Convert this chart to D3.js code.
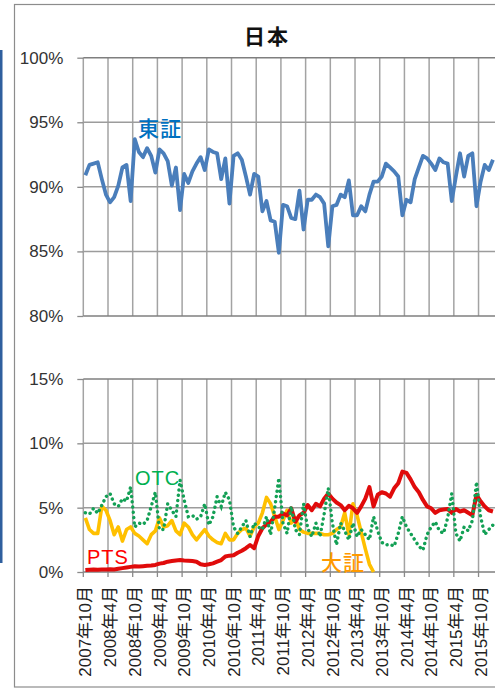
<!DOCTYPE html>
<html>
<head>
<meta charset="utf-8">
<script src="https://cdn.jsdelivr.net/npm/d3@7"></script>
<style>
  body { margin: 0; background: #fff; }
  svg { display: block; font-family: 'Liberation Sans', 'Noto Sans CJK JP', sans-serif; }
</style>
</head>
<body>
<div class="canvas"></div>
<script>
// month categories start at 2007年10月, one label every 6 months
const tickLabels = ['2007年10月', '2008年4月', '2008年10月', '2009年4月', '2009年10月', '2010年4月',
  '2010年10月', '2011年4月', '2011年10月', '2012年4月', '2012年10月', '2013年4月', '2013年10月',
  '2014年4月', '2014年10月', '2015年4月', '2015年10月']

// 東証 share (%)
const tse = [90.9, 91.7, 91.8, 91.9, 90.6, 89.4, 88.8, 89.2, 90.1, 91.5, 91.7, 88.9,
  93.7, 92.7, 92.3, 93.0, 92.4, 91.1, 92.9, 92.6, 92.0, 90.1, 91.5, 88.2,
  91.0, 90.3, 91.2, 91.8, 92.3, 91.3, 92.9, 92.7, 92.6, 90.6, 92.2, 88.7,
  92.4, 92.6, 92.1, 90.8, 89.4, 91.0, 90.8, 88.1, 88.9, 87.4, 87.3, 84.9,
  88.6, 88.5, 87.6, 87.5, 89.7, 86.7, 89.0, 89.0, 89.4, 89.2, 88.7, 85.4,
  88.5, 88.6, 89.4, 89.2, 90.5, 87.8, 87.8, 88.5, 88.1, 89.4, 90.4, 90.4,
  90.8, 91.8, 91.5, 91.2, 90.8, 87.8, 89.0, 88.8, 90.6, 91.5, 92.4, 92.2,
  91.8, 91.3, 92.2, 91.9, 91.8, 88.9, 90.8, 92.6, 90.8, 92.4, 92.6, 88.5,
  90.4, 91.7, 91.3, 92.1]

// PTS share (%)
const pts = [0.15, 0.18, 0.2, 0.18, 0.2, 0.2, 0.22, 0.2, 0.25, 0.3, 0.35, 0.4,
  0.45, 0.42, 0.45, 0.48, 0.5, 0.55, 0.65, 0.7, 0.8, 0.85, 0.9, 0.93,
  0.9, 0.88, 0.85, 0.8, 0.6, 0.55, 0.6, 0.67, 0.8, 0.93, 1.2, 1.27,
  1.3, 1.5, 1.65, 1.85, 2.1, 1.85, 2.8, 3.4, 3.7, 3.9, 4.3, 4.3,
  4.55, 4.4, 4.95, 3.9, 4.4, 4.6, 5.2, 4.8, 5.3, 5.1, 5.7, 6.1,
  5.7, 5.4, 5.2, 4.8, 5.15, 4.95, 4.6, 5.1, 5.7, 6.6, 5.1, 6.0,
  6.2, 6.1, 5.85, 6.5, 6.9, 7.8, 7.7, 7.2, 6.6, 6.2, 5.6, 5.1,
  4.95, 4.6, 4.8, 4.85, 4.9, 4.6, 4.9, 4.7, 4.8, 4.6, 4.4, 6.0,
  5.5, 5.1, 4.8, 4.7]

// 大証 share (%), ends with the merger
const ose = [4.2, 3.3, 3.0, 3.0, 5.1, 4.8, 4.0, 2.9, 3.5, 2.4, 3.3, 3.5,
  3.0, 2.8, 2.5, 2.2, 2.9, 3.2, 4.2, 3.5, 3.6, 4.0, 3.2, 2.9,
  3.8, 3.5, 2.9, 2.5, 2.9, 3.3, 2.8, 2.5, 2.3, 2.2, 3.0, 2.5,
  2.5, 3.0, 3.3, 3.4, 2.8, 3.5, 3.8, 4.6, 5.8, 5.3, 4.3, 3.3,
  4.0, 4.8, 3.8, 4.2, 3.3, 3.1, 3.0, 3.0, 3.0, 3.0, 2.9, 2.9,
  3.0, 3.3, 3.5, 4.6, 2.9, 5.3, 4.4, 3.1, 1.8, 0.6, 0]

// OTC share (%)
const otc = [4.6, 4.5, 4.95, 4.56, 5.2, 5.85, 6.1, 5.3, 5.1, 5.7, 5.5, 6.6,
  3.5, 3.8, 3.7, 4.0, 5.1, 6.2, 3.3, 3.3, 5.3, 4.8, 4.3, 7.15,
  5.6, 4.3, 4.4, 4.1, 4.3, 5.3, 3.65, 4.3, 5.85, 5.1, 6.2, 5.6,
  3.5, 3.0, 3.5, 4.0, 2.75, 3.8, 3.5, 3.3, 4.3, 2.9, 5.0, 7.3,
  3.8, 3.0, 5.1, 3.3, 2.9, 5.3, 3.4, 2.75, 3.8, 2.75, 4.5, 6.5,
  3.8, 2.1, 3.8, 3.2, 2.5, 3.8, 2.75, 3.3, 2.9, 2.5, 4.3, 3.2,
  2.3, 2.1, 2.15, 2.0, 3.0, 4.3, 3.5, 3.0, 2.5, 2.0, 1.7, 2.9,
  3.5, 3.9, 3.2, 3.0, 4.2, 6.1, 3.0, 2.4, 3.5, 3.2, 4.0, 7.0,
  4.3, 2.9, 3.3, 3.65]

const topTicks = [80, 85, 90, 95, 100]
const botTicks = [0, 5, 10, 15]

const dims = { width: 495, height: 689 }
const plot = { left: 83.3, right: 495 }

const svg = d3.select('.canvas')
  .append('svg')
  .attr('width', dims.width)
  .attr('height', dims.height)

// outer frame and the blue strip on the left edge
svg.append('rect')
  .attr('x', 14.5).attr('y', 4.5)
  .attr('width', 600).attr('height', 682.5)
  .attr('fill', 'none').attr('stroke', '#8c8c8c').attr('stroke-width', 1.2)
svg.append('rect')
  .attr('x', 0).attr('y', 50)
  .attr('width', 2.5).attr('height', 513)
  .attr('fill', '#2f5f9e')

svg.append('text')
  .attr('x', 267).attr('y', 44)
  .attr('text-anchor', 'middle')
  .attr('font-size', 21).attr('font-weight', 'bold')
  .attr('letter-spacing', 2)
  .attr('fill', '#111')
  .text('日本')

// x scale over month index, one point in the middle of each month
const x = d3.scaleLinear().domain([0, tse.length]).range([plot.left, plot.right])
const px = (d, i) => x(i + 0.5)
const gridIdx = tickLabels.map((d, k) => k * 6)

const yTop = d3.scaleLinear().domain([80, 100]).range([316, 57.7])
const yBot = d3.scaleLinear().domain([0, 15]).range([572, 379])

// draws gridlines + y axis for one panel
const drawPanel = (y, ticks) => {
  const g = svg.append('g')
  const [y0, y1] = y.range()
  g.selectAll('line.v')
    .data(gridIdx)
    .enter().append('line')
    .attr('x1', (d) => x(d)).attr('x2', (d) => x(d))
    .attr('y1', y0).attr('y2', y1)
    .attr('stroke', '#a3a3a3').attr('stroke-width', 1.5)

  const axis = d3.axisLeft(y)
    .tickValues(ticks)
    .tickFormat((d) => d + '%')
    .tickSize(6)
    .tickPadding(14)
  const ax = g.append('g')
    .attr('transform', `translate(${plot.left}, 0)`)
    .call(axis)
  ax.select('.domain').remove()
  ax.selectAll('.tick line').attr('stroke', '#8a8a8a').attr('stroke-width', 1.3)
  ax.selectAll('.tick text')
    .attr('font-size', 17)
    .attr('fill', '#333')
    .attr('font-family', "'Liberation Sans', sans-serif")

  // horizontal gridlines
  g.selectAll('line.h')
    .data(ticks)
    .enter().append('line')
    .attr('x1', plot.left).attr('x2', plot.right)
    .attr('y1', (d) => y(d)).attr('y2', (d) => y(d))
    .attr('stroke', (d, i) => (i === 0 || i === ticks.length - 1 ? '#7f7f7f' : '#9c9c9c'))
    .attr('stroke-width', 1.5)
  return g
}

drawPanel(yTop, topTicks)
drawPanel(yBot, botTicks)

// bottom ticks and rotated month labels
svg.selectAll('line.xtick')
  .data(gridIdx)
  .enter().append('line')
  .attr('x1', (d) => x(d)).attr('x2', (d) => x(d))
  .attr('y1', 572).attr('y2', 577)
  .attr('stroke', '#8a8a8a').attr('stroke-width', 1.3)

svg.selectAll('text.xlab')
  .data(tickLabels)
  .enter().append('text')
  .attr('transform', (d, k) => `translate(${x(k * 6 + 0.5)}, 586) rotate(-90)`)
  .attr('text-anchor', 'end')
  .attr('dy', '0.36em')
  .attr('font-size', 17)
  .attr('fill', '#222')
  .text((d) => d)

const lineTop = d3.line().x(px).y((d) => yTop(d))
const lineBot = d3.line().x(px).y((d) => yBot(d))

svg.append('path')
  .attr('d', lineTop(tse))
  .attr('fill', 'none')
  .attr('stroke', '#4a7ebb')
  .attr('stroke-width', 3.8)
  .attr('stroke-linejoin', 'round')

svg.append('path')
  .attr('d', lineBot(ose))
  .attr('fill', 'none')
  .attr('stroke', '#ffc000')
  .attr('stroke-width', 3.6)
  .attr('stroke-linejoin', 'round')

svg.append('path')
  .attr('d', lineBot(pts))
  .attr('fill', 'none')
  .attr('stroke', '#e00b0b')
  .attr('stroke-width', 4)
  .attr('stroke-linejoin', 'round')

svg.append('path')
  .attr('d', lineBot(otc))
  .attr('fill', 'none')
  .attr('stroke', '#13a055')
  .attr('stroke-width', 3.4)
  .attr('stroke-linecap', 'round')
  .attr('stroke-dasharray', '0.1 5.2')

// series labels
const labels = [
  { text: '東証', x: 138, y: 136, color: '#0070c0', size: 21 },
  { text: 'OTC', x: 135, y: 485, color: '#00b050', size: 20 },
  { text: 'PTS', x: 87, y: 564, color: '#ff0000', size: 20 },
  { text: '大証', x: 321, y: 570, color: '#ff9900', size: 21 },
]
svg.selectAll('text.series')
  .data(labels)
  .enter().append('text')
  .attr('x', (d) => d.x).attr('y', (d) => d.y)
  .attr('font-size', (d) => d.size)
  .attr('font-weight', 500)
  .attr('letter-spacing', 1)
  .attr('fill', (d) => d.color)
  .text((d) => d.text)
</script>
</body>
</html>
